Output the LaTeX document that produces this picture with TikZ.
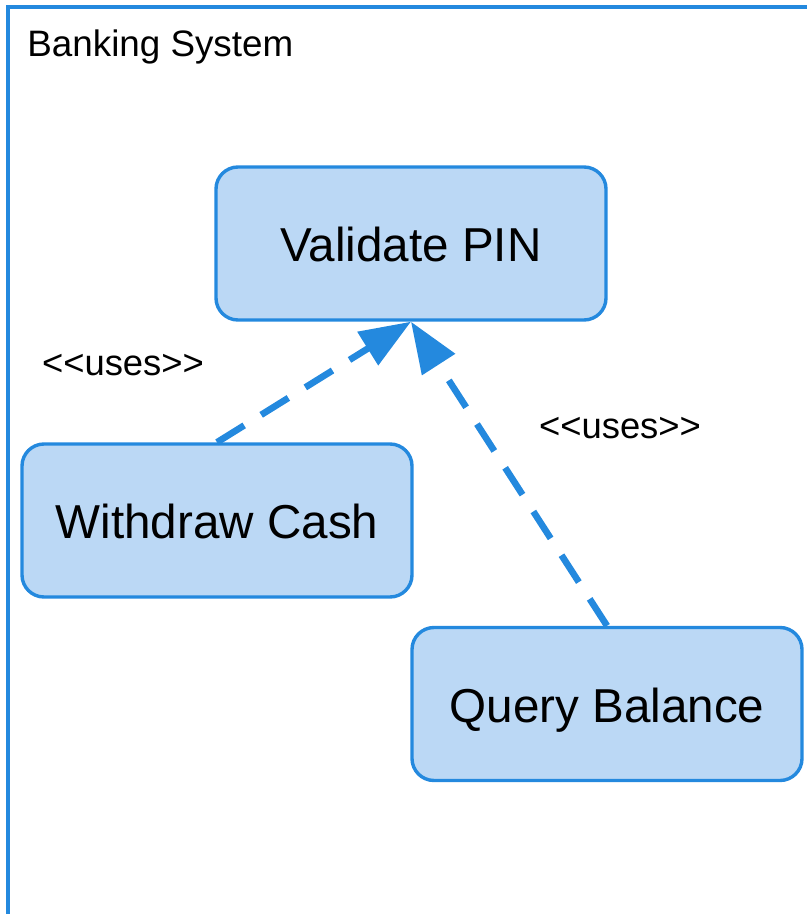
\documentclass[tikz,border=0pt]{standalone}
\usepackage{fontspec}
\setmainfont{Liberation Sans}
\usetikzlibrary{arrows.meta}

\definecolor{ucline}{RGB}{36,137,222}
\definecolor{ucfill}{RGB}{187,216,245}

\tikzset{
  usecase/.style={draw=ucline, fill=ucfill, line width=1.7pt, rounded corners=11pt,
    minimum width=195pt, minimum height=76.5pt, inner sep=0pt,
    text height=18pt, text depth=0pt,
    font=\fontsize{23.8}{28}\selectfont},
  uses/.style={draw=ucline, line width=3.3pt, dash pattern=on 16pt off 10pt,
    -{Triangle[length=25.5pt,width=19pt]}},
  stereo/.style={font=\fontsize{18.2}{22}\selectfont, inner sep=0pt, anchor=base}
}

\begin{document}
\begin{tikzpicture}[x=0.5pt, y=-0.5pt]
      \useasboundingbox (0,0) rectangle (807,914);
      \draw[ucline, line width=1.7pt] (8,7) rectangle (840,950);
      \node[anchor=base west, inner sep=0pt, font=\fontsize{18.4}{22}\selectfont] (sys) at (27,57) {Banking System};

      \node[usecase] (pin) at (411,243.5) {Validate PIN};
      \node[usecase] (cash) at (217,520.5) {Withdraw Cash};
      \node[usecase] (bal) at (607,704) {Query Balance};

      \node[stereo] (usesA) at (123,375) {<{}<uses>{}>};
      \node[stereo] (usesB) at (620,438) {<{}<uses>{}>};

      \draw[uses] (cash.north) to (pin.south);
      \draw[uses] (bal.north) to (pin.south);
    \end{tikzpicture}
\end{document}
